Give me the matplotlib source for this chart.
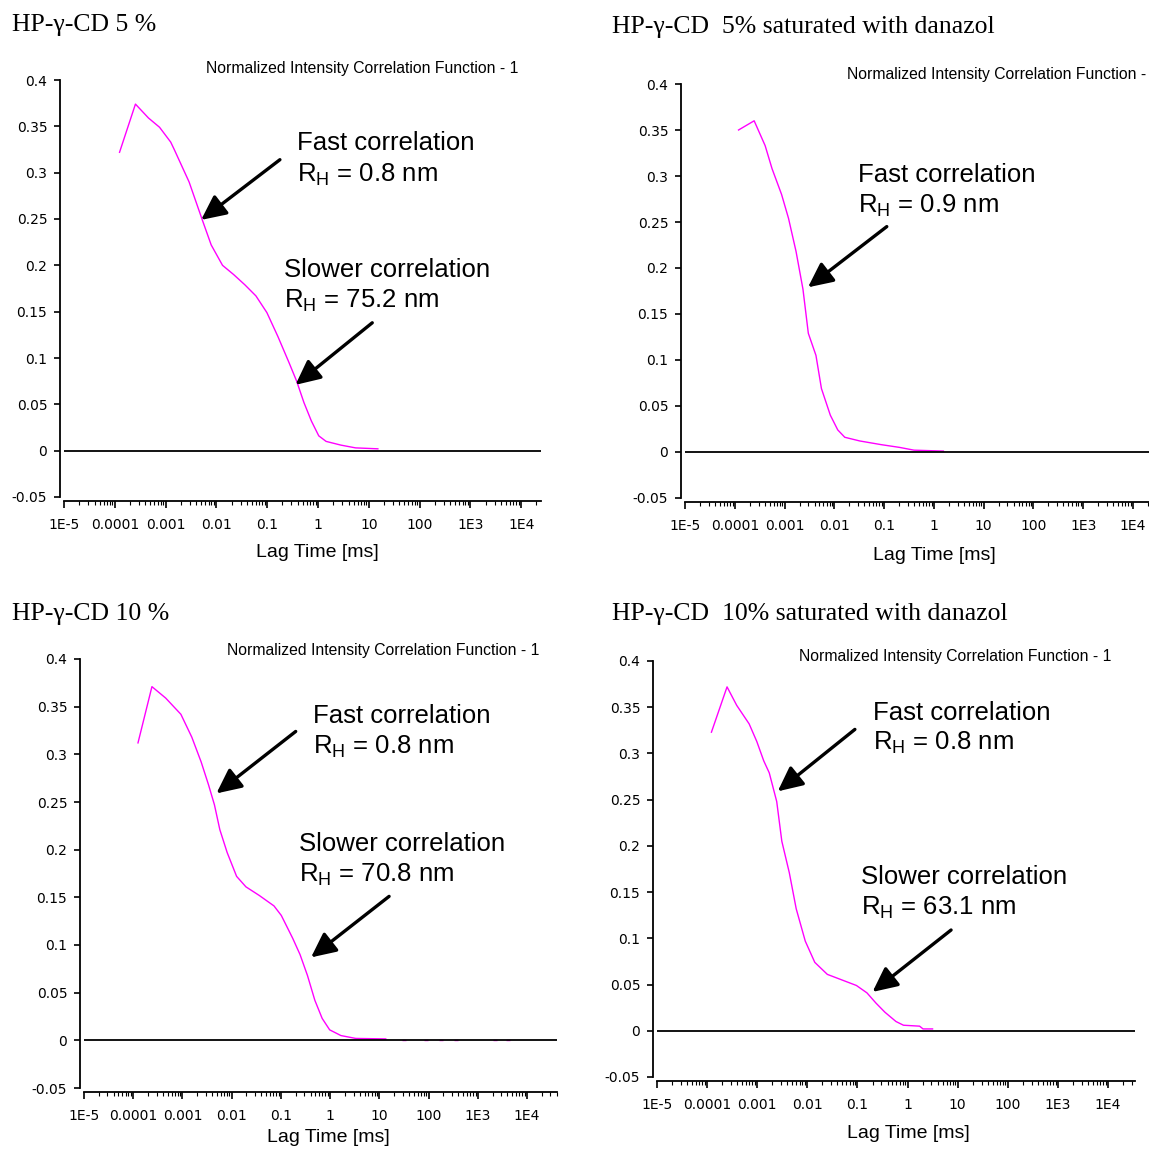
import matplotlib
matplotlib.use("Agg")
import matplotlib.pyplot as plt
from matplotlib.ticker import FixedLocator, LogLocator, NullFormatter
import numpy as np

W = H = 1149

# --- measured correlation functions (lag time in ms, g2 - 1) ---
lag_5 = [1.24e-4, 2.55e-4, 4.6e-4, 7.6e-4, 1.26e-3, 1.48e-3, 2.9e-3, 5.2e-3, 7.9e-3,
         0.0132, 0.0219, 0.0363, 0.060, 0.0986, 0.163, 0.269, 0.380, 0.528, 0.741,
         1.035, 1.445, 2.82, 5.5, 15.1]
g2_5 = [0.322, 0.374, 0.359, 0.349, 0.333, 0.325, 0.290, 0.250, 0.222, 0.200, 0.190,
        0.179, 0.167, 0.149, 0.123, 0.095, 0.075, 0.052, 0.032, 0.016, 0.010, 0.006,
        0.003, 0.002]

lag_5d = [1.19e-4, 2.45e-4, 4.07e-4, 5.6e-4, 8.7e-4, 1.2e-3, 1.7e-3, 2.34e-3, 3.0e-3,
          4.27e-3, 5.5e-3, 8.3e-3, 0.0117, 0.0162, 0.0324, 0.087, 0.204, 0.398, 1.55]
g2_5d = [0.350, 0.360, 0.333, 0.308, 0.280, 0.254, 0.218, 0.177, 0.129, 0.105, 0.069,
         0.040, 0.024, 0.016, 0.012, 0.008, 0.005, 0.002, 0.001]

lag_10 = [1.25e-4, 2.4e-4, 4.57e-4, 9.3e-4, 1.55e-3, 2.4e-3, 3.39e-3, 4.47e-3, 5.75e-3,
          8.1e-3, 0.0126, 0.0195, 0.0363, 0.0724, 0.102, 0.174, 0.245, 0.347, 0.49,
          0.69, 0.98, 1.66, 3.31, 13.5]
g2_10 = [0.312, 0.371, 0.359, 0.342, 0.318, 0.292, 0.268, 0.247, 0.221, 0.197, 0.172,
         0.161, 0.152, 0.141, 0.131, 0.107, 0.090, 0.068, 0.042, 0.023, 0.011, 0.005,
         0.002, 0.0015]
# stray channels near zero at long lag times
lag_10_stray = [32, 87, 182, 355, 2290, 4170]
g2_10_stray = [0.0005, 0.0005, 0.0005, 0.0005, 0.0005, 0.0005]

lag_10d = [1.22e-4, 2.5e-4, 3.9e-4, 6.9e-4, 9.8e-4, 1.35e-3, 1.74e-3, 2.45e-3, 3.1e-3,
           4.37e-3, 6.0e-3, 9.1e-3, 0.0141, 0.0251, 0.049, 0.0955, 0.155, 0.234, 0.355,
           0.589, 0.83, 1.74, 2.04, 3.16]
g2_10d = [0.323, 0.372, 0.352, 0.332, 0.313, 0.292, 0.279, 0.248, 0.205, 0.171, 0.132,
          0.097, 0.074, 0.061, 0.055, 0.049, 0.041, 0.030, 0.020, 0.010, 0.006, 0.005,
          0.002, 0.002]

titles = ["HP-γ-CD 5 %", "HP-γ-CD  5% saturated with danazol",
          "HP-γ-CD 10 %", "HP-γ-CD  10% saturated with danazol"]
headers = ["Normalized Intensity Correlation Function - 1",
           "Normalized Intensity Correlation Function -",
           "Normalized Intensity Correlation Function - 1",
           "Normalized Intensity Correlation Function - 1"]
fast_rh = ["0.8", "0.9", "0.8", "0.8"]
slow_rh = ["75.2", None, "70.8", "63.1"]

xtick_vals = [1e-5, 1e-4, 1e-3, 1e-2, 1e-1, 1, 10, 100, 1e3, 1e4]
xtick_labels = ["1E-5", "0.0001", "0.001", "0.01", "0.1", "1", "10", "100", "1E3", "1E4"]
ytick_vals = [-0.05, 0, 0.05, 0.1, 0.15, 0.2, 0.25, 0.3, 0.35, 0.4]
ytick_labels = ["-0.05", "0", "0.05", "0.1", "0.15", "0.2", "0.25", "0.3", "0.35", "0.4"]

# layout in pixels: axes box (left, right, top, bottom), x max exponent,
# title position, header position, xlabel position
panels = [
    dict(box=(64, 541, 80, 497), xmax=4.39, title=(12, 25), header=(362, 68), xlabel=(317, 553),
         fast_text=(0.38, 0.324, 0.291), fast_arrow=((0.178, 0.314), (5.0e-3, 0.249)),
         slow_text=(0.21, 0.187, 0.154), slow_arrow=((11.7, 0.138), (0.36, 0.071))),
    dict(box=(685, 1149, 84, 498), xmax=4.32, title=(612, 27), header=(997, 74), xlabel=(934, 555),
         fast_text=(0.0295, 0.294, 0.260), fast_arrow=((0.113, 0.245), (2.95e-3, 0.179)),
         slow_text=None, slow_arrow=None),
    dict(box=(84, 557, 659, 1088), xmax=4.61, title=(12, 614), header=(383, 650), xlabel=(328, 1138),
         fast_text=(0.45, 0.333, 0.301), fast_arrow=((0.2, 0.324), (4.9e-3, 0.259)),
         slow_text=(0.23, 0.199, 0.167), slow_arrow=((15.8, 0.151), (0.41, 0.087))),
    dict(box=(657, 1135, 661, 1077), xmax=4.54, title=(612, 614), header=(955, 657), xlabel=(908, 1134),
         fast_text=(0.2, 0.336, 0.304), fast_arrow=((0.089, 0.326), (2.57e-3, 0.259)),
         slow_text=(0.117, 0.159, 0.126), slow_arrow=((7.4, 0.109), (0.2, 0.042))),
]
series = [(lag_5, g2_5), (lag_5d, g2_5d), (lag_10, g2_10), (lag_10d, g2_10d)]

SANS = "Liberation Sans"
SERIF = "Liberation Serif"
MAGENTA = "#ff00ff"

fig = plt.figure(figsize=(W / 100, H / 100), dpi=100)


def arrow(ax, tail, head):
    ax.annotate("", xy=head, xytext=tail,
                arrowprops=dict(arrowstyle="-|>,head_length=0.75,head_width=0.36",
                                lw=2.4, color="black", mutation_scale=20,
                                shrinkA=0, shrinkB=0))


for i, p in enumerate(panels):
    l, r, t, b = p["box"]
    ax = fig.add_axes([l / W, 1 - b / H, (r - l) / W, (b - t) / H])
    lag, g2 = series[i]
    ax.plot(lag, g2, color=MAGENTA, lw=1.0)
    if i == 2:
        ax.plot(lag_10_stray, g2_10_stray, ls="none", marker="_", ms=3, color=MAGENTA)
    ax.axhline(0, color="black", lw=1.3)

    ax.set_xscale("log")
    ax.set_xlim(1e-5, 10 ** p["xmax"])
    ax.set_ylim(-0.05, 0.4)
    ax.xaxis.set_major_locator(FixedLocator(xtick_vals))
    ax.set_xticklabels(xtick_labels, family=SANS, fontsize=11.5)
    ax.xaxis.set_minor_locator(LogLocator(base=10, subs=np.arange(2, 10), numticks=40))
    ax.xaxis.set_minor_formatter(NullFormatter())
    ax.set_yticks(ytick_vals)
    ax.set_yticklabels(ytick_labels, family=SANS, fontsize=13.5)

    for s in ["top", "right"]:
        ax.spines[s].set_visible(False)
    ax.spines["left"].set_position(("outward", 3))
    ax.spines["bottom"].set_position(("outward", 3))
    ax.spines["left"].set_linewidth(1.3)
    ax.spines["bottom"].set_linewidth(1.3)
    ax.tick_params(axis="x", which="major", direction="out", length=5, width=1.2, pad=7)
    ax.tick_params(axis="x", which="minor", direction="out", length=3, width=0.8)
    ax.tick_params(axis="y", direction="out", length=4, width=1.2, pad=5)
    ax.patch.set_alpha(0)

    fx, fy1, fy2 = p["fast_text"]
    ax.text(fx, fy1, "Fast correlation", family=SANS, fontsize=18.5, va="baseline")
    ax.text(fx, fy2, r"R$_{\mathregular{H}}$ = " + fast_rh[i] + " nm", family=SANS,
            fontsize=18.5, va="baseline")
    arrow(ax, *p["fast_arrow"])
    if p["slow_text"] is not None:
        sx, sy1, sy2 = p["slow_text"]
        ax.text(sx, sy1, "Slower correlation", family=SANS, fontsize=18.5, va="baseline")
        ax.text(sx, sy2, r"R$_{\mathregular{H}}$ = " + slow_rh[i] + " nm", family=SANS,
                fontsize=18.5, va="baseline")
        arrow(ax, *p["slow_arrow"])

    tx, ty = p["title"]
    fig.text(tx / W, 1 - ty / H, titles[i], family=SERIF, fontsize=18.5, va="center", ha="left")
    hx, hy = p["header"]
    fig.text(hx / W, 1 - hy / H, headers[i], family=SANS, fontsize=11.3, va="center", ha="center")
    lx, ly = p["xlabel"]
    fig.text(lx / W, 1 - ly / H, "Lag Time [ms]", family=SANS, fontsize=14, va="center", ha="center")

fig.savefig("out.png", dpi=100)
